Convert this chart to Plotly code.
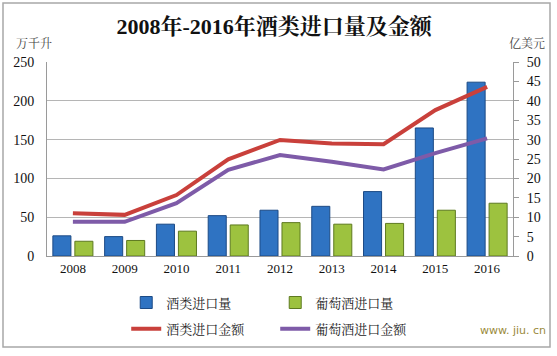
import plotly.graph_objects as go

years = ["2008", "2009", "2010", "2011", "2012", "2013", "2014", "2015", "2016"]
liquor_volume = [26, 25, 41, 52, 59, 64, 83, 165, 224]
wine_volume = [19, 20, 32, 40, 43, 41, 42, 59, 68]
liquor_value = [11.0, 10.6, 15.7, 24.9, 29.9, 29.0, 28.8, 37.6, 43.6]
wine_value = [8.8, 8.8, 13.6, 22.2, 26.0, 24.3, 22.3, 26.5, 30.3]

serif = "Liberation Serif, Times New Roman, Noto Serif CJK SC, Noto Sans CJK SC, serif"

fig = go.Figure()
fig.add_trace(go.Bar(x=years, y=liquor_volume, name="酒类进口量",
                     marker=dict(color="#2F73C2", line=dict(color="#1C4A85", width=1)),
                     legend="legend"))
fig.add_trace(go.Bar(x=years, y=wine_volume, name="葡萄酒进口量",
                     marker=dict(color="#9DC23F", line=dict(color="#5E7A20", width=1)),
                     legend="legend"))
fig.add_trace(go.Scatter(x=years, y=liquor_value, name="酒类进口金额", yaxis="y2",
                         mode="lines", line=dict(color="#C9403B", width=4),
                         legend="legend2"))
fig.add_trace(go.Scatter(x=years, y=wine_value, name="葡萄酒进口金额", yaxis="y2",
                         mode="lines", line=dict(color="#7E5BA8", width=4),
                         legend="legend2"))

legend_common = dict(orientation="h", xanchor="left", yanchor="middle",
                     font=dict(family=serif, size=13, color="#222"),
                     entrywidth=104, entrywidthmode="pixels",
                     bgcolor="rgba(0,0,0,0)", traceorder="normal")

fig.update_layout(
    width=557, height=356,
    margin=dict(l=47, r=44, t=62, b=100, autoexpand=False),
    paper_bgcolor="white", plot_bgcolor="white",
    barmode="group", bargap=0.15, bargroupgap=0.18,
    title=dict(text="<b>2008年-2016年酒类进口量及金额</b>", x=0.492, xanchor="center",
               y=0.925, yanchor="middle",
               font=dict(family=serif, size=22, color="#111")),
    xaxis=dict(showgrid=False, showline=True, linecolor="#9A9A9A", linewidth=1,
               ticks="", tickfont=dict(family=serif, size=13, color="#111")),
    yaxis=dict(range=[0, 250], dtick=50, showgrid=True, gridcolor="#B5B5B5", gridwidth=1,
               showline=True, linecolor="#9A9A9A", linewidth=1, zeroline=False,
               ticks="", ticklabelstandoff=9,
               tickfont=dict(family=serif, size=14, color="#111")),
    yaxis2=dict(range=[0, 50], dtick=5, overlaying="y", side="right", showgrid=False,
                showline=True, linecolor="#9A9A9A", linewidth=1, zeroline=False,
                ticks="outside", ticklen=5, tickcolor="#9A9A9A", ticklabelstandoff=5,
                tickfont=dict(family=serif, size=14, color="#111")),
    legend=dict(x=0.17, y=-0.24, **legend_common),
    legend2=dict(x=0.17, y=-0.375, **legend_common),
    showlegend=True,
)

fig.add_annotation(text="万千升", xref="paper", yref="paper", x=-0.07, y=1.095,
                   xanchor="left", yanchor="middle", showarrow=False,
                   font=dict(family=serif, size=12, color="#444"))
fig.add_annotation(text="亿美元", xref="paper", yref="paper", x=0.987, y=1.095,
                   xanchor="left", yanchor="middle", showarrow=False,
                   font=dict(family=serif, size=12, color="#444"))
fig.add_annotation(text="www. jiu. cn", xref="paper", yref="paper", x=1.075, y=-0.385,
                   xanchor="right", yanchor="middle", showarrow=False,
                   font=dict(family="DejaVu Sans, sans-serif", size=11, color="#9A8A3A"))

fig.add_shape(type="rect", xref="paper", yref="paper",
              x0=-44 / 466, x1=(550 - 47) / 466, y0=-(347 - 256) / 194, y1=(256 - 3) / 194,
              line=dict(color="#A8A8A8", width=1.5), fillcolor="rgba(0,0,0,0)", layer="below")

fig.write_html("out.html", config={"displayModeBar": False},
               post_script="document.body.style.margin='0';document.body.style.overflow='hidden';")
